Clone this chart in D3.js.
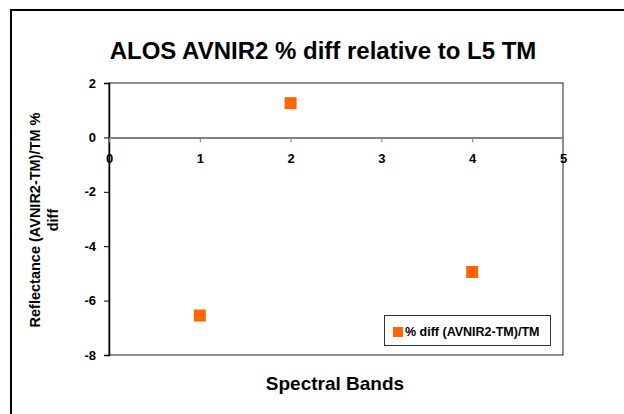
<!DOCTYPE html>
<html><head><meta charset="utf-8">
<script src="https://cdn.jsdelivr.net/npm/d3@7"></script>
<style>body{margin:0;background:#fff}svg{display:block}text{font-family:"Liberation Sans",Arial,sans-serif;font-weight:bold;fill:#000}</style>
</head><body><svg id="c" width="624" height="414"></svg>
<script>
const bands = [1, 2, 4];
const pctDiff = [-6.55, 1.26, -4.95];
const xTicks = [0, 1, 2, 3, 4, 5];
const yTicks = [2, 0, -2, -4, -6, -8];
const title = "ALOS AVNIR2 % diff relative to L5 TM";
const seriesName = "% diff (AVNIR2-TM)/TM";

const svg = d3.select("#c");
svg.append("rect").attr("x", 11).attr("y", 10).attr("width", 700).attr("height", 600)
  .attr("fill", "none").attr("stroke", "#000").attr("stroke-width", 2);

const L = 109, R = 563, T = 83, B = 355;
const x = d3.scaleLinear().domain([0, 5]).range([L, R]);
const y = d3.scaleLinear().domain([-8, 2]).range([B, T]);
const fmt = d => String(d);
const font = '"Liberation Sans",Arial,sans-serif';

// plot border
svg.append("rect").attr("x", L).attr("y", T).attr("width", R - L).attr("height", B - T)
  .attr("fill", "none").attr("stroke", "#222").attr("stroke-width", 1);

// y axis
const ya = svg.append("g").attr("transform", `translate(${L},0)`)
  .call(d3.axisLeft(y).tickValues(yTicks).tickSize(5).tickPadding(8).tickFormat(fmt));
ya.select(".domain").attr("stroke", "#000").attr("stroke-width", 1.5);
ya.selectAll(".tick line").attr("stroke", "#000");
ya.selectAll("text").style("font-size", "13px").style("font-weight", "bold").style("font-family", font);

// x axis at zero
const xa = svg.append("g").attr("transform", `translate(0,${y(0)})`)
  .call(d3.axisBottom(x).tickValues(xTicks).tickSize(5).tickPadding(11).tickSizeOuter(0).tickFormat(fmt));
xa.select(".domain").attr("stroke", "#808080").attr("stroke-width", 2);
xa.selectAll(".tick line").attr("stroke", "#808080");
xa.selectAll("text").style("font-size", "13px").style("font-weight", "bold").style("font-family", font);

// points
svg.append("g").selectAll("rect").data(bands.map((b, i) => [b, pctDiff[i]])).join("rect")
  .attr("x", d => x(d[0]) - 6).attr("y", d => y(d[1]) - 6)
  .attr("width", 12).attr("height", 12).attr("fill", "#ff6600");

// title
svg.append("text").attr("x", 323).attr("y", 59).attr("text-anchor", "middle")
  .style("font-size", "24px").text(title);

// axis titles
svg.append("text").attr("x", 335).attr("y", 390).attr("text-anchor", "middle")
  .style("font-size", "19px").text("Spectral Bands");
const yt = svg.append("text").attr("transform", "translate(40,220) rotate(-90)")
  .attr("text-anchor", "middle").style("font-size", "14.5px");
yt.append("tspan").attr("x", 0).attr("dy", 0).text("Reflectance (AVNIR2-TM)/TM %");
yt.append("tspan").attr("x", 0).attr("dy", 18).text("diff");

// legend
svg.append("rect").attr("x", 384.5).attr("y", 315.5).attr("width", 166).attr("height", 30)
  .attr("fill", "#fff").attr("stroke", "#333").attr("stroke-width", 1);
svg.append("rect").attr("x", 393).attr("y", 327).attr("width", 10).attr("height", 10).attr("fill", "#ff6600");
svg.append("text").attr("x", 405).attr("y", 336).style("font-size", "12.5px").text(seriesName);
</script></body></html>
